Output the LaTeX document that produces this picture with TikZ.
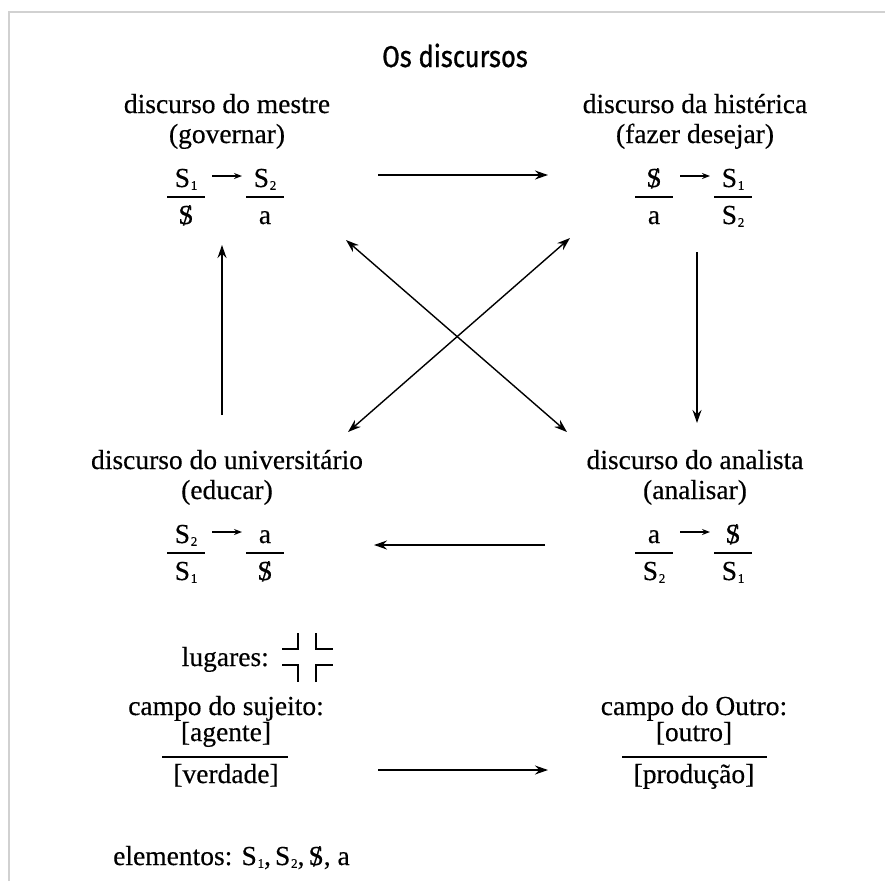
\documentclass[tikz,border=0pt]{standalone}
\usepackage{fontspec}
\setmainfont[FakeBold=0.4]{Liberation Serif}
\newfontfamily\titlefont[FakeStretch=0.85,FakeBold=0.9]{Fira Sans}
\usetikzlibrary{arrows.meta}
\newcommand\bS{\ooalign{S\cr\hidewidth\kern0.05em\raisebox{-0.05em}{\scalebox{1}[1.12]{/}}\hidewidth\cr}}
\newcommand\sbs[1]{\kern0.03em\raisebox{-0.1em}{\fontsize{13}{13}\selectfont #1}}
\newcommand\Sa{S\sbs{1}}
\newcommand\Sb{S\sbs{2}}
\tikzset{
  txt/.style={anchor=base, inner sep=0pt, font=\fontsize{27.5}{30}\selectfont},
  bar/.style={line width=1.6pt},
  smallarr/.style={line width=1.6pt, -{Stealth[length=8pt,width=6pt]}},
  bigarr/.style={line width=1.4pt, -{Stealth[length=13pt,width=9pt]}},
  botharr/.style={line width=1.4pt, {Stealth[length=13pt,width=9pt]}-{Stealth[length=13pt,width=9pt]}},
  frameline/.style={draw=black!18, line width=2pt},
  place/.style={line width=1.6pt},
}
% #1 prefix, #2 shift, #3 title, #4 subtitle, #5 num-left, #6 num-right, #7 den-left, #8 den-right
\newcommand\discourse[8]{%
  \begin{scope}[shift={(#2)}]
    \node[txt] (#1t) at (0,113) {#3};
    \node[txt] (#1s) at (0,143) {#4};
    \node[txt] (#1a) at (-41,187) {#5};
    \node[txt] (#1b) at (38,187) {#6};
    \node[txt] (#1c) at (-41,224) {#7};
    \node[txt] (#1d) at (38,224) {#8};
    \draw[bar] (-60,197) -- (-22,197);
    \draw[bar] (19,197) -- (57,197);
    \coordinate (#1p) at (-15,176);
    \coordinate (#1q) at (15,176);
    \draw[smallarr] (#1p) -- (#1q);
  \end{scope}}
\begin{document}
\begin{tikzpicture}[x=1pt,y=-1pt]
  \useasboundingbox (0,0) rectangle (885,881);
  \draw[frameline] (9,881) -- (9,12) -- (885,12);
  \node[anchor=base, inner sep=0pt, font=\titlefont\fontsize{30}{32}\selectfont] (title) at (455,67) {Os discursos};

  \discourse{m}{227,0}{discurso do mestre}{(governar)}{\Sa}{\Sb}{\bS}{a}
  \discourse{h}{695,0}{discurso da histérica}{(fazer desejar)}{\bS}{\Sa}{a}{\Sb}
  \discourse{u}{227,356}{discurso do universitário}{(educar)}{\Sb}{a}{\Sa}{\bS}
  \discourse{n}{695,356}{discurso do analista}{(analisar)}{a}{\bS}{\Sb}{\Sa}

  % connector end points
  \coordinate (m-out) at (378,175);
  \coordinate (h-in) at (548,175);
  \coordinate (h-out) at (697,252);
  \coordinate (n-in) at (697,423);
  \coordinate (n-out) at (545,545);
  \coordinate (u-in) at (374,545);
  \coordinate (u-out) at (222,415);
  \coordinate (m-in) at (222,245);
  \coordinate (d1a) at (346,240);
  \coordinate (d1b) at (567,432);
  \coordinate (d2a) at (570,238);
  \coordinate (d2b) at (348,432);

  \draw[bigarr] (m-out) -- (h-in);
  \draw[bigarr] (h-out) -- (n-in);
  \draw[bigarr] (n-out) -- (u-in);
  \draw[bigarr] (u-out) -- (m-in);
  \draw[botharr] (d1a) -- (d1b);
  \draw[botharr] (d2a) -- (d2b);

  % lugares
  \node[txt, anchor=base east] (lug) at (269,666) {lugares:};
  \draw[place] (282,649) -- (298,649) -- (298,633);
  \draw[place] (316,633) -- (316,649) -- (333,649);
  \draw[place] (282,665) -- (298,665) -- (298,682);
  \draw[place] (316,682) -- (316,665) -- (333,665);

  % campos
  \node[txt] (cs) at (226,715) {campo do sujeito:};
  \node[txt] (cs1) at (226,741) {[agente]};
  \node[txt] (cs2) at (226,783) {[verdade]};
  \draw[bar] (162,757) -- (288,757);
  \node[txt] (co) at (694,715) {campo do Outro:};
  \node[txt] (co1) at (694,741) {[outro]};
  \node[txt] (co2) at (694,783) {[produção]};
  \draw[bar] (622,757) -- (767,757);
  \coordinate (cs-out) at (378,770);
  \coordinate (co-in) at (548,770);
  \draw[bigarr] (cs-out) -- (co-in);

  \node[txt, anchor=base west] (elem) at (113,865) {elementos: S\sbs{1},\hspace{4pt}S\sbs{2},\hspace{4pt}\bS, a};
\end{tikzpicture}
\end{document}
